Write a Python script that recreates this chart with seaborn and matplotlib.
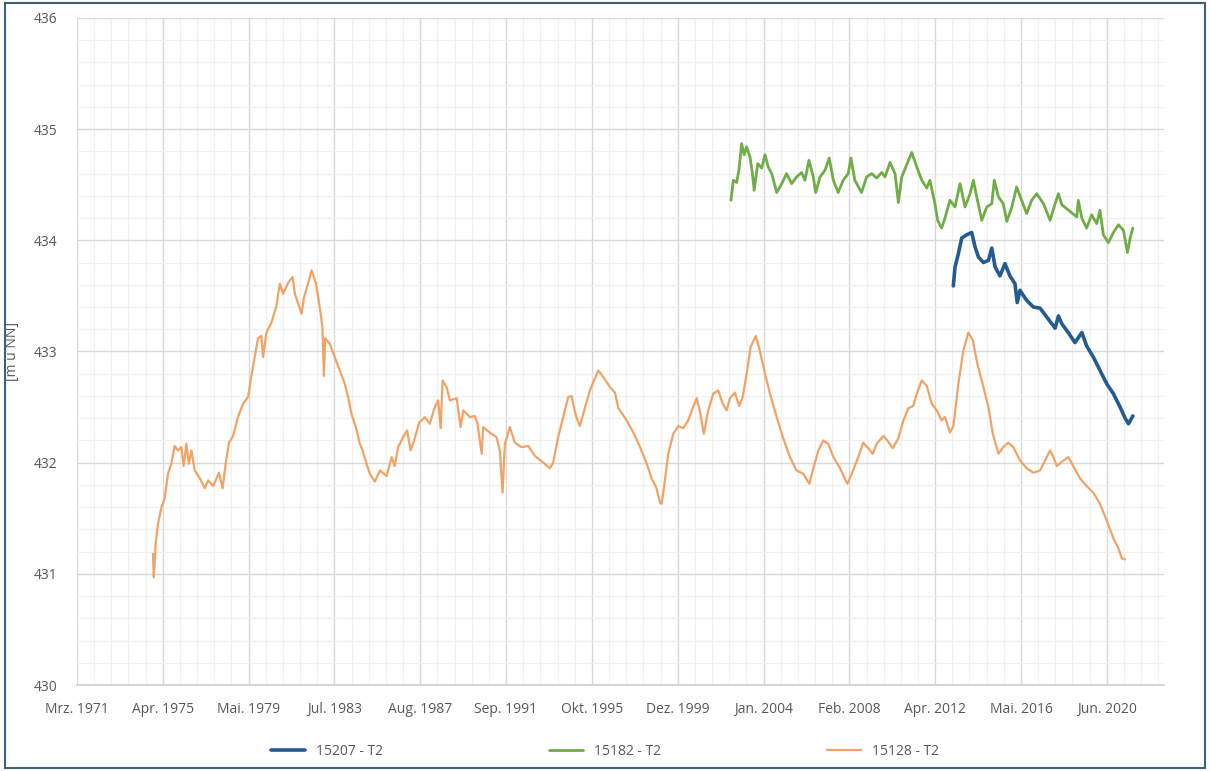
import pandas as pd
import matplotlib
matplotlib.use("Agg")
import matplotlib.pyplot as plt
import seaborn as sns
from matplotlib.patches import Rectangle
from matplotlib.ticker import MultipleLocator

sns.set_theme(style="white")
plt.rcParams['font.family'] = ['Open Sans', 'DejaVu Sans']

# --- data (decimal years, m ü NN) ---
years_15128 = [
    1974.82, 1974.86, 1974.95, 1975.06, 1975.22, 1975.38, 1975.54, 1975.70, 1975.86, 1976.02,
    1976.18, 1976.29, 1976.42, 1976.54, 1976.66, 1976.82, 1977.06, 1977.30, 1977.46, 1977.70,
    1977.98, 1978.15, 1978.30, 1978.46, 1978.65, 1978.89, 1979.13, 1979.37, 1979.53, 1979.69,
    1979.85, 1980.01, 1980.09, 1980.25, 1980.49, 1980.73, 1980.89, 1981.05, 1981.29, 1981.50,
    1981.61, 1981.93, 1982.04, 1982.24, 1982.41, 1982.61, 1982.80, 1982.93, 1983.00, 1983.06,
    1983.28, 1983.52, 1983.76, 1984.00, 1984.16, 1984.32, 1984.53, 1984.72, 1984.85, 1985.04,
    1985.20, 1985.44, 1985.68, 1986.00, 1986.24, 1986.39, 1986.55, 1986.79, 1986.98, 1987.15,
    1987.35, 1987.56, 1987.83, 1988.07, 1988.31, 1988.47, 1988.59, 1988.68, 1988.87, 1989.03,
    1989.35, 1989.54, 1989.67, 1989.99, 1990.22, 1990.34, 1990.55, 1990.62, 1990.94, 1991.26,
    1991.42, 1991.55, 1991.66, 1991.90, 1992.14, 1992.46, 1992.78, 1993.10, 1993.50, 1993.81,
    1993.97, 1994.21, 1994.45, 1994.69, 1994.85, 1995.06, 1995.25, 1995.41, 1995.73, 1996.13,
    1996.37, 1996.69, 1996.93, 1997.09, 1997.49, 1997.81, 1998.13, 1998.45, 1998.68, 1998.92,
    1999.08, 1999.16, 1999.27, 1999.48, 1999.72, 1999.96, 2000.20, 2000.43, 2000.65, 2000.84,
    2000.99, 2001.18, 2001.39, 2001.63, 2001.87, 2002.08, 2002.27, 2002.43, 2002.67, 2002.87,
    2003.04, 2003.23, 2003.42, 2003.67, 2003.83, 2004.11, 2004.35, 2004.67, 2004.98, 2005.30,
    2005.62, 2005.94, 2006.23, 2006.42, 2006.66, 2006.90, 2007.14, 2007.38, 2007.70, 2008.05,
    2008.26, 2008.57, 2008.81, 2009.05, 2009.26, 2009.45, 2009.77, 2009.96, 2010.22, 2010.49,
    2010.73, 2010.97, 2011.20, 2011.37, 2011.61, 2011.85, 2012.09, 2012.33, 2012.56, 2012.72,
    2012.88, 2012.96, 2013.12, 2013.36, 2013.60, 2013.84, 2014.05, 2014.27, 2014.56, 2014.80,
    2015.01, 2015.28, 2015.51, 2015.75, 2015.99, 2016.31, 2016.63, 2016.95, 2017.27, 2017.51,
    2017.75, 2017.91, 2018.07, 2018.39, 2018.62, 2018.86, 2019.18, 2019.50, 2019.82, 2020.14,
    2020.46, 2020.78, 2021.02, 2021.18, 2021.34,
]
level_15128 = [
    431.18, 430.97, 431.27, 431.45, 431.59, 431.68, 431.90, 431.99, 432.15, 432.11,
    432.14, 431.97, 432.17, 431.99, 432.11, 431.93, 431.86, 431.77, 431.84, 431.79,
    431.91, 431.77, 431.99, 432.18, 432.24, 432.41, 432.53, 432.59, 432.78, 432.95,
    433.12, 433.14, 432.95, 433.17, 433.26, 433.41, 433.61, 433.52, 433.62, 433.67,
    433.52, 433.34, 433.48, 433.61, 433.73, 433.62, 433.40, 433.22, 432.78, 433.12,
    433.07, 432.95, 432.83, 432.71, 432.59, 432.44, 432.32, 432.17, 432.11, 431.99,
    431.90, 431.83, 431.93, 431.88, 432.05, 431.97, 432.14, 432.23, 432.29, 432.11,
    432.22, 432.36, 432.41, 432.35, 432.50, 432.56, 432.31, 432.74, 432.68, 432.56,
    432.58, 432.32, 432.47, 432.41, 432.42, 432.36, 432.08, 432.32, 432.27, 432.23,
    432.11, 431.73, 432.17, 432.32, 432.18, 432.14, 432.15, 432.06, 432.00, 431.95,
    432.00, 432.23, 432.41, 432.59, 432.60, 432.42, 432.33, 432.44, 432.65, 432.83,
    432.77, 432.68, 432.63, 432.49, 432.38, 432.27, 432.14, 431.99, 431.86, 431.77,
    431.64, 431.63, 431.77, 432.08, 432.26, 432.33, 432.31, 432.38, 432.49, 432.58,
    432.47, 432.26, 432.47, 432.62, 432.65, 432.53, 432.47, 432.58, 432.63, 432.51,
    432.59, 432.80, 433.04, 433.14, 433.03, 432.80, 432.62, 432.41, 432.22, 432.05,
    431.93, 431.90, 431.81, 431.95, 432.11, 432.20, 432.17, 432.05, 431.95, 431.81,
    431.90, 432.05, 432.18, 432.13, 432.08, 432.17, 432.24, 432.20, 432.13, 432.22,
    432.38, 432.49, 432.51, 432.62, 432.74, 432.69, 432.53, 432.47, 432.38, 432.41,
    432.32, 432.27, 432.33, 432.71, 433.01, 433.17, 433.10, 432.89, 432.68, 432.50,
    432.26, 432.08, 432.14, 432.18, 432.14, 432.02, 431.95, 431.91, 431.93, 432.02,
    432.11, 432.05, 431.97, 432.02, 432.05, 431.97, 431.86, 431.79, 431.73, 431.63,
    431.48, 431.32, 431.23, 431.14, 431.13,
]

years_15182 = [
    2002.48, 2002.59, 2002.75, 2002.86, 2002.99, 2003.11, 2003.23, 2003.39, 2003.50, 2003.59,
    2003.76, 2003.95, 2004.11, 2004.26, 2004.43, 2004.67, 2004.91, 2005.14, 2005.38, 2005.62,
    2005.86, 2006.02, 2006.21, 2006.42, 2006.53, 2006.74, 2006.98, 2007.18, 2007.38, 2007.61,
    2007.85, 2008.09, 2008.22, 2008.41, 2008.73, 2008.97, 2009.21, 2009.45, 2009.69, 2009.85,
    2010.09, 2010.33, 2010.49, 2010.65, 2010.89, 2011.13, 2011.37, 2011.61, 2011.85, 2012.00,
    2012.24, 2012.37, 2012.56, 2012.72, 2012.96, 2013.20, 2013.44, 2013.68, 2013.92, 2014.08,
    2014.24, 2014.48, 2014.72, 2014.96, 2015.08, 2015.28, 2015.51, 2015.68, 2015.92, 2016.15,
    2016.39, 2016.63, 2016.87, 2017.11, 2017.43, 2017.75, 2017.99, 2018.15, 2018.31, 2019.03,
    2019.10, 2019.27, 2019.50, 2019.74, 2019.98, 2020.14, 2020.30, 2020.54, 2020.78, 2021.02,
    2021.26, 2021.45, 2021.58, 2021.71,
]
level_15182 = [
    434.36, 434.54, 434.52, 434.63, 434.87, 434.77, 434.84, 434.75, 434.61, 434.45,
    434.69, 434.65, 434.77, 434.66, 434.60, 434.43, 434.51, 434.60, 434.51, 434.57,
    434.61, 434.54, 434.72, 434.57, 434.43, 434.57, 434.63, 434.74, 434.54, 434.43,
    434.54, 434.60, 434.74, 434.54, 434.43, 434.57, 434.60, 434.56, 434.61, 434.57,
    434.70, 434.60, 434.34, 434.57, 434.68, 434.79, 434.66, 434.54, 434.47, 434.54,
    434.33, 434.18, 434.11, 434.20, 434.36, 434.30, 434.51, 434.30, 434.42, 434.54,
    434.39, 434.18, 434.30, 434.33, 434.54, 434.39, 434.33, 434.17, 434.30, 434.48,
    434.36, 434.24, 434.36, 434.42, 434.33, 434.18, 434.33, 434.42, 434.32, 434.21,
    434.36, 434.20, 434.11, 434.23, 434.15, 434.27, 434.05, 433.98, 434.07, 434.14,
    434.09, 433.89, 434.02, 434.11,
]

years_15207 = [
    2013.12, 2013.20, 2013.36, 2013.52, 2013.76, 2014.00, 2014.16, 2014.32, 2014.56, 2014.80,
    2014.96, 2015.12, 2015.35, 2015.59, 2015.83, 2016.07, 2016.18, 2016.31, 2016.63, 2016.95,
    2017.27, 2017.59, 2017.83, 2017.99, 2018.15, 2018.31, 2018.62, 2018.94, 2019.27, 2019.50,
    2019.82, 2020.14, 2020.46, 2020.78, 2021.10, 2021.34, 2021.50, 2021.71,
]
level_15207 = [
    433.59, 433.76, 433.88, 434.02, 434.05, 434.07, 433.94, 433.85, 433.80, 433.82,
    433.93, 433.76, 433.68, 433.79, 433.68, 433.61, 433.44, 433.55, 433.46, 433.40,
    433.39, 433.31, 433.25, 433.21, 433.32, 433.25, 433.17, 433.08, 433.17, 433.05,
    432.95, 432.83, 432.71, 432.62, 432.50, 432.40, 432.35, 432.42,
]

series_names = ["15207 - T2", "15182 - T2", "15128 - T2"]
series_colors = ["#245b91", "#70ad47", "#f2a264"]
series_widths = [2.6, 2.0, 1.6]

y_ticks = [430, 431, 432, 433, 434, 435, 436]
tick_labels = ["Mrz. 1971", "Apr. 1975", "Mai. 1979", "Jul. 1983", "Aug. 1987",
               "Sep. 1991", "Okt. 1995", "Dez. 1999", "Jan. 2004", "Feb. 2008",
               "Apr. 2012", "Mai. 2016", "Jun. 2020"]


def to_dates(years):
    out = []
    for y in years:
        base = int(y)
        out.append(pd.Timestamp(base, 1, 1) + pd.Timedelta(days=(y - base) * 365.25))
    return out


frames = []
for name, yrs, vals in zip(series_names,
                           [years_15207, years_15182, years_15128],
                           [level_15207, level_15182, level_15128]):
    frames.append(pd.DataFrame({"date": to_dates(yrs), "level": vals, "series": name}))
df = pd.concat(frames, ignore_index=True)

fig = plt.figure(figsize=(12.1, 7.71), dpi=100)
ax = fig.add_axes([0.0636, 0.1115, 0.8984, 0.8652])

for name, color, lw in zip(series_names, series_colors, series_widths):
    sns.lineplot(data=df[df["series"] == name], x="date", y="level", color=color,
                 linewidth=lw, estimator=None, sort=False, label=name, ax=ax)

# axis: Excel date axis, major unit 1500 days, minor 300 days
start = pd.Timestamp("1971-03-09")
major_ticks = [start + pd.Timedelta(days=1500 * k) for k in range(len(tick_labels))]
minor_ticks = [start + pd.Timedelta(days=300 * k) for k in range(64)]
ax.set_xticks(major_ticks)
ax.set_xticks(minor_ticks, minor=True)
ax.set_xticklabels(tick_labels)
ax.set_xlim(start, start + pd.Timedelta(days=19000))

ax.set_ylim(430, 436)
ax.set_yticks(y_ticks)
ax.set_yticklabels([str(v) for v in y_ticks])
ax.yaxis.set_minor_locator(MultipleLocator(0.2))

ax.grid(which="major", color="#d9d9d9", linewidth=1.0)
ax.grid(which="minor", color="#f0f0f0", linewidth=0.9)
ax.set_axisbelow(True)
for side in ["top", "right", "left"]:
    ax.spines[side].set_visible(False)
ax.spines["bottom"].set_color("#d0d0d0")
ax.tick_params(axis="both", which="both", length=0, labelsize=10, colors="#595959")
ax.tick_params(axis="x", pad=12)
ax.tick_params(axis="y", pad=14)

ax.set_xlabel("")
ax.set_ylabel("[m ü NN]", fontsize=10, color="#595959", labelpad=10)

handles, labels = ax.get_legend_handles_labels()
ax.get_legend().remove()
fig.legend(handles, labels, loc="center", bbox_to_anchor=(0.5, 0.025), ncol=3,
           frameon=False, fontsize=10, handlelength=2.4, columnspacing=12,
           labelcolor="#595959")

fig.patches.append(Rectangle((0.004, 0.004), 0.992, 0.992, transform=fig.transFigure,
                             fill=False, edgecolor="#3f6075", linewidth=1.5))

fig.savefig("out.png", dpi=100, facecolor="white")
